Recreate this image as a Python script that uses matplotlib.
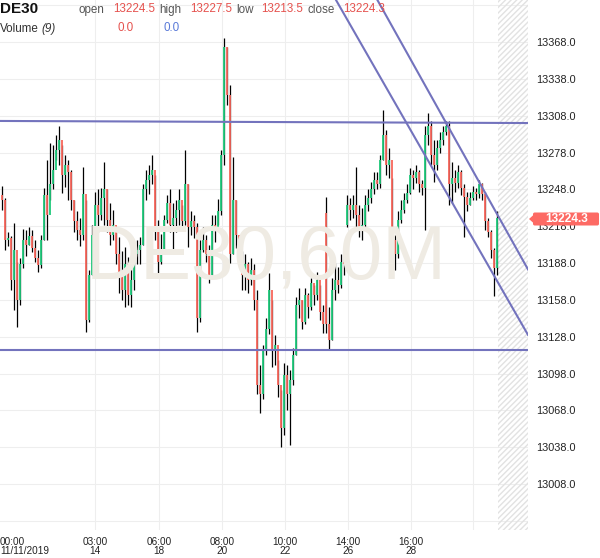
import matplotlib
matplotlib.use("Agg")
import matplotlib.pyplot as plt
import numpy as np
from matplotlib.patches import FancyBboxPatch, Polygon

plt.rcParams['font.family'] = ['Liberation Sans', 'DejaVu Sans']

# ---------------- data (DE30, 60M candles) ----------------
first_open = 13243
close = [
    13239, 13207, 13208, 13174, 13199, 13158, 13187, 13207, 13203, 13210,
    13200, 13192, 13186, 13207, 13243, 13227, 13252, 13264, 13280, 13288,
    13260, 13268, 13262, 13239, 13222, 13215, 13211, 13244, 13142, 13178,
    13211, 13235, 13227, 13241, 13248, 13223, 13211, 13219, 13195, 13178,
    13166, 13187, 13162, 13174, 13195, 13199, 13203, 13248, 13256, 13260,
    13264, 13215, 13189, 13199, 13223, 13237, 13219, 13225, 13231, 13239,
    13222, 13252, 13217, 13222, 13217, 13143, 13199, 13207, 13195, 13178,
    13219, 13215, 13230, 13276, 13364, 13325, 13195, 13239, 13211, 13199,
    13178, 13187, 13174, 13182, 13158, 13089, 13081, 13116, 13134, 13166,
    13117, 13121, 13089, 13054, 13097, 13081, 13093, 13113, 13154, 13158,
    13140, 13162, 13152, 13172, 13162, 13174, 13148, 13138, 13138, 13125,
    13166, 13174, 13170, 13189, 13187, 13235, 13231, 13235, 13227, 13215,
    13219, 13235, 13241, 13248, 13256, 13252, 13272, 13292, 13268, 13272,
    13207, 13195, 13223, 13231, 13239, 13245, 13260, 13257, 13262, 13252,
    13249, 13292, 13300, 13276, 13268, 13282, 13288, 13295, 13300, 13252,
    13257, 13253, 13262, 13249, 13242, 13235, 13241, 13246, 13244, 13252,
    13244, 13222, 13213, 13199, 13184, 13224.3]
high = [
    13251, 13241, 13213, 13210, 13221, 13189, 13192, 13216, 13215, 13217,
    13215, 13207, 13199, 13211, 13249, 13272, 13286, 13284, 13292, 13300,
    13284, 13276, 13272, 13264, 13239, 13230, 13225, 13266, 13239, 13182,
    13219, 13246, 13248, 13249, 13270, 13248, 13237, 13231, 13217, 13209,
    13198, 13201, 13193, 13189, 13201, 13207, 13209, 13252, 13264, 13268,
    13276, 13260, 13223, 13212, 13227, 13243, 13248, 13237, 13239, 13248,
    13235, 13280, 13252, 13230, 13227, 13221, 13207, 13217, 13211, 13203,
    13227, 13227, 13240, 13280, 13371, 13364, 13333, 13274, 13239, 13211,
    13198, 13195, 13189, 13192, 13187, 13166, 13105, 13121, 13143, 13180,
    13158, 13129, 13109, 13085, 13107, 13105, 13101, 13119, 13160, 13168,
    13158, 13168, 13164, 13176, 13170, 13181, 13170, 13154, 13242, 13152,
    13176, 13188, 13185, 13195, 13195, 13243, 13241, 13243, 13266, 13235,
    13233, 13243, 13248, 13254, 13262, 13262, 13276, 13313, 13296, 13282,
    13257, 13211, 13230, 13239, 13245, 13252, 13265, 13264, 13268, 13264,
    13256, 13300, 13310, 13304, 13288, 13288, 13295, 13300, 13304, 13304,
    13270, 13264, 13268, 13264, 13252, 13246, 13246, 13251, 13249, 13256,
    13253, 13246, 13225, 13215, 13200, 13230]
low = [
    13231, 13199, 13202, 13166, 13150, 13136, 13154, 13184, 13194, 13203,
    13197, 13189, 13181, 13184, 13207, 13207, 13239, 13248, 13272, 13268,
    13245, 13250, 13239, 13231, 13213, 13207, 13202, 13207, 13132, 13140,
    13178, 13207, 13213, 13223, 13219, 13213, 13203, 13207, 13187, 13164,
    13158, 13152, 13154, 13152, 13166, 13187, 13187, 13203, 13239, 13244,
    13252, 13207, 13176, 13187, 13197, 13221, 13213, 13199, 13213, 13219,
    13215, 13219, 13201, 13211, 13208, 13132, 13140, 13197, 13189, 13172,
    13176, 13205, 13219, 13227, 13268, 13317, 13188, 13195, 13200, 13188,
    13166, 13166, 13164, 13170, 13150, 13081, 13066, 13077, 13113, 13130,
    13103, 13105, 13079, 13038, 13048, 13068, 13040, 13089, 13113, 13143,
    13134, 13138, 13143, 13150, 13154, 13158, 13142, 13131, 13131, 13117,
    13125, 13158, 13164, 13168, 13178, 13217, 13223, 13225, 13215, 13209,
    13207, 13217, 13230, 13237, 13244, 13248, 13249, 13272, 13260, 13257,
    13199, 13182, 13192, 13221, 13229, 13237, 13244, 13248, 13253, 13246,
    13243, 13215, 13284, 13268, 13254, 13264, 13278, 13284, 13292, 13235,
    13237, 13246, 13249, 13243, 13209, 13230, 13235, 13239, 13239, 13241,
    13239, 13215, 13209, 13192, 13161, 13178]
open_gaps = {108: 13229, 115: 13219}   # session gaps: open differs from prior close

x_tick_labels = ["00:00\n11/11/2019", "03:00\n14", "06:00\n18", "08:00\n20",
                 "10:00\n22", "14:00\n26", "16:00\n28"]
y_ticks = [13008, 13038, 13068, 13098, 13128, 13158, 13188, 13218, 13248,
           13278, 13308, 13338, 13368]

# drawn trend / level lines (price anchors)
level_top = [13303.7, 13302.0]
level_bottom = 13117.3
channel_lower = [13402.2, 13129.5]
channel_upper = [13402.2, 13182.8]

header_vals = {"open": "13224.5", "high": "13227.5", "low": "13213.5", "close": "13224.3"}
last_price = "13224.3"

assert len(close) == len(high) == len(low)
N = len(close)
opens = [first_open] + close[:-1]
for k, v in open_gaps.items():
    opens[k] = v
o = np.array(opens, float); c = np.array(close, float)
h = np.array(high, float); l = np.array(low, float)
xi = np.arange(N)

# ---------------- figure ----------------
W, H = 600, 558
fig = plt.figure(figsize=(W / 100, H / 100), dpi=100)
ax = fig.add_axes([0, 28 / H, 528 / W, 530 / H])
ax.set_xlim(-0.5, 175.5)
ax.set_ylim(12970.6, 13402.2)
for s in ax.spines.values():
    s.set_visible(False)

grid_c = '#eeeeee'
for v in y_ticks + [12978, 13398]:
    ax.axhline(v, color=grid_c, lw=0.8, zorder=0)
xt_pos = [-0.5, 31.17, 52.5, 73.5, 94.5, 115.5, 136.5]
for p in xt_pos[1:] + [157.2]:
    ax.axvline(p, color=grid_c, lw=0.8, zorder=0)

# hatched future zone
ax.axvspan(165.6, 175.5, facecolor='none', edgecolor='#e2e2e2', hatch='//////', lw=0, zorder=0)

# watermark
fig.text(266 / W, 1 - 259 / H, "DE30,60M", fontsize=55, color='#efebe3',
         ha='center', va='center', zorder=0.5)

# candles
up = c >= o
cols = np.where(up, '#1fc97b', '#f8675c')
ax.vlines(xi, l, h, color='black', lw=0.9, zorder=3)
ax.vlines(xi, np.minimum(o, c), np.maximum(o, c), colors=cols, lw=1.3, zorder=4)

# lines
lc = '#7373bd'
ax.plot([-0.5, 175.5], level_top, color=lc, lw=1.5, zorder=5)
ax.axhline(level_bottom, color=lc, lw=1.5, zorder=5)
ax.plot([111.5, 175.5], channel_lower, color=lc, lw=1.5, zorder=5)
ax.plot([125.3, 175.5], channel_upper, color=lc, lw=1.5, zorder=5)

# axes ticks
ax.set_yticks(y_ticks)
ax.set_yticklabels([f"{v:.1f}" for v in y_ticks])
ax.yaxis.tick_right()
ax.tick_params(axis='y', length=0, pad=6, labelsize=7.8, labelcolor='#222222')
ax.set_xticks(xt_pos)
ax.set_xticklabels(x_tick_labels, linespacing=0.9)
ax.tick_params(axis='x', length=0, pad=5, labelsize=7.2, labelcolor='#222222')
ax.get_xticklabels()[0].set_ha('left')

# price tag
tag = FancyBboxPatch((533 / W, 1 - 225.5 / H), 66 / W, 13 / H,
                     boxstyle='round,pad=0,rounding_size=0.003',
                     transform=fig.transFigure, fc='#fd6a64', ec='none', zorder=10)
fig.patches.append(tag)
fig.patches.append(Polygon([(529 / W, 1 - 219 / H), (534 / W, 1 - 214.5 / H),
                            (534 / W, 1 - 223.5 / H)], closed=True,
                           transform=fig.transFigure, fc='#fd6a64', ec='none', zorder=10))
fig.text(567 / W, 1 - 219 / H, last_price, color='white', fontsize=8.6,
         ha='center', va='center', fontweight='bold', zorder=11)

# header
def ft(px, py, s, **kw):
    fig.text(px / W, 1 - py / H, s, va='center', ha='left', **kw)

ft(0, 9, "DE30", fontsize=11, fontweight='bold', color='#111111')
lab_c, val_c = '#555555', '#e5524e'
ft(79, 10, "open", fontsize=8.4, color=lab_c)
ft(113, 9, header_vals["open"], fontsize=8.4, color=val_c)
ft(159, 10, "high", fontsize=8.4, color=lab_c)
ft(190, 9, header_vals["high"], fontsize=8.4, color=val_c)
ft(236, 10, "low", fontsize=8.4, color=lab_c)
ft(261, 9, header_vals["low"], fontsize=8.4, color=val_c)
ft(307, 10, "close", fontsize=8.4, color=lab_c)
ft(343, 9, header_vals["close"], fontsize=8.4, color=val_c)
ft(0, 29, "Volume", fontsize=8.4, color='#333333')
ft(41, 29, "(9)", fontsize=8.4, color='#333333', style='italic')
ft(117, 28, "0.0", fontsize=8.4, color=val_c)
ft(163, 28, "0.0", fontsize=8.4, color='#5a7ad8')

fig.savefig("out.png", dpi=100)
